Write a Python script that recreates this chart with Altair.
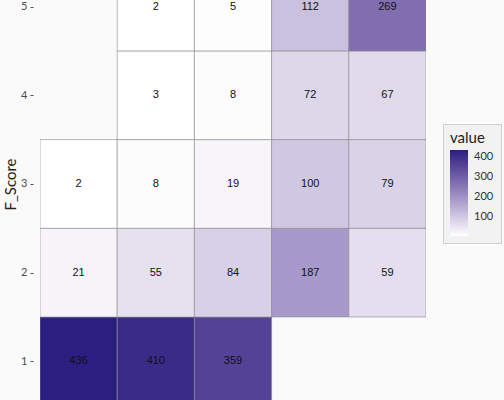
import altair as alt
import pandas as pd

r_score = [1, 1, 1, 2, 2, 2, 2, 2, 3, 3, 3, 3, 3, 4, 4, 4, 4, 5, 5, 5, 5]
f_score = [1, 2, 3, 1, 2, 3, 4, 5, 1, 2, 3, 4, 5, 2, 3, 4, 5, 2, 3, 4, 5]
values = [436, 21, 2, 410, 55, 8, 3, 2, 359, 84, 19, 8, 5, 187, 100, 72, 112, 59, 79, 67, 269]

df = pd.DataFrame({"R_Score": r_score, "F_Score": f_score, "value": values})

base = alt.Chart(df).transform_calculate(
    x1="datum.R_Score - 0.5", x2="datum.R_Score + 0.5",
    y1="datum.F_Score - 0.5", y2="datum.F_Score + 0.5",
)

xs = alt.Scale(domain=[0.5, 5.5], nice=False, zero=False)
ys = alt.Scale(domain=[0.564, 5.074], nice=False, zero=False)

rects = base.mark_rect(clip=True, stroke="#888888", strokeOpacity=0.6, strokeWidth=1).encode(
    x=alt.X("x1:Q", scale=xs, axis=None),
    x2="x2:Q",
    y=alt.Y("y1:Q", scale=ys, axis=alt.Axis(
        values=[1, 2, 3, 4, 5], title="F_Score", grid=False, domain=False, offset=7,
        tickColor="#555555", tickSize=3, labelColor="#4D4D4D", labelFontSize=11,
        labelFont="Lato", titleFont="Lato", titleFontSize=15, titleFontWeight="normal",
        titleColor="#222222", labelPadding=3, titleY=184, titleX=-15, format="d")),
    y2="y2:Q",
    color=alt.Color("value:Q", scale=alt.Scale(domain=[2, 436], range=["#FFFFFF", "#2A1F80"], interpolate="lab"),
                    legend=alt.Legend(
                        title="value", orient="none", legendX=403, legendY=124,
                        values=[100, 200, 300, 400], gradientLength=86, gradientThickness=18,
                        fillColor="#F2F2F2", strokeColor="#D0D0D0", padding=7,
                        titleFont="Lato", titleFontSize=15, titleFontWeight="normal", titleColor="#222222",
                        titlePadding=4, labelOffset=6,
                        labelFont="Lato", labelFontSize=11, labelColor="#333333",
                        gradientStrokeWidth=0)),
)

texts = base.mark_text(clip=True, font="Liberation Sans", fontSize=11, color="#111111").encode(
    x=alt.X("R_Score:Q", scale=xs),
    y=alt.Y("F_Score:Q", scale=ys),
    text="value:Q",
)

chart = (rects + texts).properties(
    width=386, height=400,
    autosize=alt.AutoSizeParams(type="none"),
    padding={"left": 40, "top": 0, "right": 78, "bottom": 0},
    background="#FAFAFA",
).configure_view(stroke=None, fill="#FAFAFA")

chart.save("out.html", embed_options={"renderer": "svg", "actions": False})
